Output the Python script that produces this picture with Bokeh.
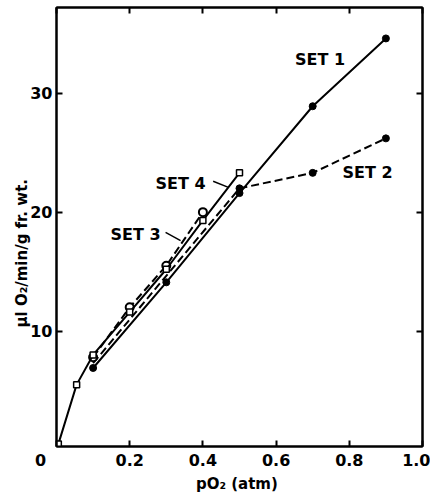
from bokeh.plotting import figure
from bokeh.models import Range1d, FixedTicker, LinearAxis, Label
from bokeh.embed import file_html
from bokeh.resources import INLINE

# ---- data ----
set1_x = [0.1, 0.3, 0.5, 0.7, 0.9]
set1_y = [6.9, 14.1, 21.6, 28.9, 34.6]

set2_line_x = [0.1, 0.5, 0.7, 0.9]
set2_line_y = [7.3, 22.0, 23.3, 26.2]
set2_pts_x = [0.5, 0.7, 0.9]
set2_pts_y = [22.0, 23.3, 26.2]

set3_x = [0.1, 0.2, 0.3, 0.4]
set3_y = [7.8, 12.0, 15.5, 20.0]

set4_x = [0.005, 0.055, 0.1, 0.2, 0.3, 0.4, 0.5]
set4_y = [0.5, 5.5, 8.0, 11.6, 15.2, 19.3, 23.3]

x_ticks = [0.0, 0.2, 0.4, 0.6, 0.8, 1.0]
x_tick_labels = {0.0: "0\u2003\u2003", 0.2: "0.2", 0.4: "0.4", 0.6: "0.6",
                 0.8: "0.8", 1.0: "1.0"}
y_ticks = [10, 20, 30]

FONT = "DejaVu Sans"

p = figure(width=430, height=501, output_backend="svg", toolbar_location=None,
           x_range=Range1d(0, 1.0), y_range=Range1d(0.3, 37.2),
           min_border_left=56, min_border_right=8, min_border_top=7,
           min_border_bottom=55, x_axis_location=None, y_axis_location=None)
p.background_fill_color = "white"
p.border_fill_color = "white"
p.outline_line_color = "black"
p.outline_line_width = 2
p.xgrid.visible = False
p.ygrid.visible = False


def style_axis(ax, labels=True):
    ax.axis_line_width = 2
    ax.axis_line_color = "black"
    ax.major_tick_in = 6
    ax.major_tick_out = 0
    ax.major_tick_line_width = 2
    ax.minor_tick_line_color = None
    ax.major_label_text_font = FONT
    ax.major_label_text_font_style = "bold"
    ax.major_label_text_font_size = "16px"
    ax.major_label_text_color = "black" if labels else None
    ax.major_label_standoff = 4
    ax.axis_label_text_font = FONT
    ax.axis_label_text_font_style = "bold"
    ax.axis_label_text_font_size = "15px"
    ax.axis_label_text_color = "black"


xb = LinearAxis(ticker=FixedTicker(ticks=x_ticks), major_label_overrides=x_tick_labels)
style_axis(xb)
xb.axis_label = "pO\u2082  (atm)"
xb.axis_label_standoff = 2
p.add_layout(xb, "below")

xt = LinearAxis(ticker=FixedTicker(ticks=x_ticks))
style_axis(xt, labels=False)
p.add_layout(xt, "above")

yl = LinearAxis(ticker=FixedTicker(ticks=y_ticks))
style_axis(yl)
yl.axis_label = "\u00b5l O\u2082/min/g fr. wt.\u2003\u2003\u2003\u2002"
yl.axis_label_standoff = -4
p.add_layout(yl, "left")

yr = LinearAxis(ticker=FixedTicker(ticks=y_ticks))
style_axis(yr, labels=False)
p.add_layout(yr, "right")

# ---- series ----
p.line(set1_x, set1_y, line_color="black", line_width=2)
p.scatter(set1_x, set1_y, marker="circle", size=7, fill_color="black", line_color="black")

p.line(set2_line_x, set2_line_y, line_color="black", line_width=2, line_dash="8 4")
p.scatter(set2_pts_x, set2_pts_y, marker="circle", size=7, fill_color="black", line_color="black")

p.line(set3_x, set3_y, line_color="black", line_width=2, line_dash="8 4")
p.scatter(set3_x, set3_y, marker="circle", size=8, fill_color="white", line_color="black", line_width=2)

p.line(set4_x, set4_y, line_color="black", line_width=2)
p.scatter(set4_x, set4_y, marker="square", size=6, fill_color="white", line_color="black", line_width=1.5)

# ---- annotations ----
def txt(x, y, s):
    p.add_layout(Label(x=x, y=y, text=s, text_font=FONT, text_font_style="bold",
                       text_font_size="16px", text_align="center", text_baseline="middle",
                       text_color="black"))

txt(0.72, 32.8, "SET 1")
txt(0.85, 23.3, "SET 2")
txt(0.216, 18.1, "SET 3")
txt(0.339, 22.4, "SET 4")

p.line([0.298, 0.339], [18.3, 17.6], line_color="black", line_width=1.5)
p.line([0.428, 0.468], [22.6, 22.1], line_color="black", line_width=1.5)

open("out.html", "w").write(file_html(p, INLINE))
